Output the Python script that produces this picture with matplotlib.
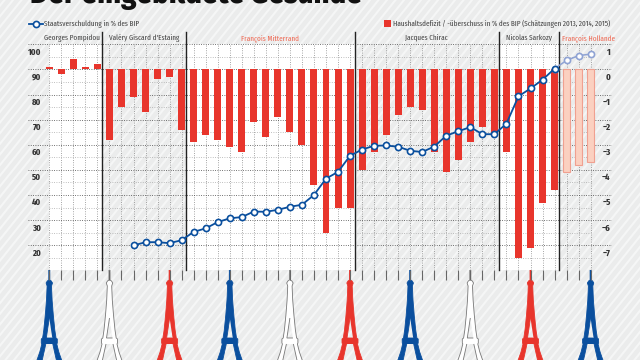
import numpy as np
import matplotlib
matplotlib.use('Agg')
import matplotlib.pyplot as plt
from matplotlib import font_manager
from matplotlib.path import Path
from matplotlib.patches import PathPatch, Rectangle
from matplotlib.transforms import ScaledTranslation

# Haushaltsdefizit, one value per year
deficit = [0.1, -0.2, 0.4, 0.1, 0.2,
           -2.8, -1.5, -1.1, -1.7, -0.4, -0.3, -2.4,
           -2.9, -2.6, -2.8, -3.1, -3.3, -2.1, -2.7, -1.9, -2.5, -3.0, -4.6, -6.5, -5.5, -5.5,
           -4.0, -3.3, -2.6, -1.8, -1.5, -1.6, -3.3, -4.1, -3.6, -2.9, -2.3, -2.6,
           -3.3, -7.5, -7.1, -5.3, -4.8,
           -4.1, -3.8, -3.7]
# Staatsverschuldung, starts with the eighth bar
debt = [19.9, 21.2, 21.2, 20.8, 22.0, 25.3, 26.7, 29.2, 30.7, 31.2, 33.4, 33.3, 34.1, 35.3, 36.1, 40.0,
        46.5, 49.2, 55.6, 58.1, 59.6, 59.7, 59.2, 57.6, 57.1, 59.3, 63.6, 65.4, 67.0, 64.2, 64.2,
        68.4, 79.3, 82.4, 85.9, 90.3, 93.6, 95.5, 96.1]
debt_start = 7
n_estimated = 3

presidents = ['Georges Pompidou', "Valéry Giscard d'Estaing", 'François Mitterrand',
              'Jacques Chirac', 'Nicolas Sarkozy', 'François Hollande']
president_x = [72, 144, 270, 426.7, 529, 588]
president_col = ['#444444', '#444444', '#ee6a55', '#444444', '#444444', '#ee6a55']
breaks = [4.4, 11.4, 25.4, 37.4, 42.4]
debt_ticks = [100, 90, 80, 70, 60, 50, 40, 30, 20]
deficit_ticks = [1, 0, -1, -2, -3, -4, -5, -6, -7]

tower_x = [49.3, 109.5, 169.6, 229.8, 289.9, 350, 410.2, 470.3, 530.5, 590.6]
tower_col = ['#0a4f9e', 'white', '#e8352c'] * 3 + ['#0a4f9e']

RED = '#e8352c'
BLUE = '#0a4f9e'
PALE_BLUE = '#8fa3d4'

# condensed face if there is one, else a smaller plain one
names = {f.name for f in font_manager.fontManager.ttflist}
if 'Fira Sans Extra Condensed' in names:
    NARROW, fs = 'Fira Sans Extra Condensed', 0.8
elif 'Asap Condensed' in names:
    NARROW, fs = 'Asap Condensed', 0.8
else:
    NARROW, fs = 'Liberation Sans', 0.65

W, H = 640, 360
L, R, T, B = 28, 612, 44.3, 270.3

fig = plt.figure(figsize=(6.4, 3.6), dpi=100, facecolor='#ebecec')

# background layer in pixels
bg = fig.add_axes([0, 0, 1, 1])
bg.set_xlim(0, W)
bg.set_ylim(H, 0)
bg.axis('off')
for s in np.arange(-H, W + H, 8.5):
    bg.plot([s, s + H * 0.8], [H, 0], color='#f5f6f6', lw=1.5, zorder=1)

# eiffel towers
outer = [(0.5, 270), (0.5, 280), (2, 281), (3.2, 283), (2.2, 286), (2.8, 300), (4, 315), (5.5, 330),
         (6.7, 338), (8, 339), (8, 343), (7.5, 344), (9.5, 352), (13, 362)]
hole1 = [(0.3, 318), (3, 338)]
hole2 = [(3.5, 344), (7.5, 362)]
for cx, col in zip(tower_x, tower_col):
    verts = [(cx + a, y) for a, y in outer] + [(cx - a, y) for a, y in outer[::-1]]
    codes = [Path.MOVETO] + [Path.LINETO] * (len(verts) - 1)
    for h in (hole1, hole2):
        ring = [(cx, h[0][1]), (cx - h[1][0], h[1][1]), (cx + h[1][0], h[1][1])]
        if h is hole2:
            ring = [(cx - h[0][0], h[0][1]), (cx - h[1][0], h[1][1]),
                    (cx + h[1][0], h[1][1]), (cx + h[0][0], h[0][1])]
        verts += ring
        codes += [Path.MOVETO] + [Path.LINETO] * (len(ring) - 1)
    edge = '#777777' if col == 'white' else col
    bg.add_patch(PathPatch(Path(verts, codes), facecolor=col, edgecolor=edge, lw=0.6, zorder=3))

# title, cut by the top edge
bg.text(30, 3.5, 'Der eingebildete Gesunde', fontsize=30 * fs, fontweight='bold', family=NARROW,
        color='#111111', va='baseline', ha='left')

# legends
bg.plot([29, 43], [23.5, 23.5], color=BLUE, lw=1.3, zorder=4)
bg.plot([36], [23.5], 'o', ms=4.4, mfc='white', mec=BLUE, mew=1.2, zorder=5)
bg.text(44, 23.8, 'Staatsverschuldung in % des BIP', fontsize=7 * fs, family=NARROW, color='#444444', va='center')
bg.add_patch(Rectangle((384, 20), 7, 7, facecolor=RED, edgecolor='none', zorder=4))
bg.text(393, 23.8, 'Haushaltsdefizit / -überschuss in % des BIP (Schätzungen 2013, 2014, 2015)',
        fontsize=7 * fs, family=NARROW, color='#444444', va='center')
for name, x, col in zip(presidents, president_x, president_col):
    bg.text(x, 37.7, name, fontsize=7 * fs, family=NARROW, color=col, ha='center', va='center')

# chart axes, value scale on the right, debt scale on the left
ax = fig.add_axes([L / W, 1 - B / H, (R - L) / W, (B - T) / H])
ax.patch.set_alpha(0)
idx = np.arange(len(deficit))
px = 12.03
ax.set_xlim((L - 49.3) / px, (R - 49.3) / px)
ax.set_ylim(-8, 1)

# white panels for every other president
edges = [-0.0, 4.4, 11.4, 25.4, 37.4, 42.4]
for a, b in [(edges[0], edges[1]), (edges[2], edges[3]), (edges[4], edges[5])]:
    ax.axvspan(a, b, color='white', lw=0, zorder=0)

ax.set_axisbelow(True)
ax.set_xticks(idx)
ax.set_xticklabels([])
ax.set_yticks(deficit_ticks + [-8])
ax.set_yticklabels([str(v).replace('-', '\u2212') for v in deficit_ticks] + [''])
ax.grid(axis='x', color='#888888', lw=0.6, ls=(0, (1, 1.8)), zorder=1)
ax.grid(axis='y', color='#444444', lw=0.6, ls=(0, (1, 1.8)), zorder=2)
ax.hlines(np.arange(-7.5, 1, 1), 0, idx[-1], color='#aaaaaa', lw=0.6, ls=(0, (1, 1.8)), zorder=1)
ax.tick_params(axis='x', length=7.2, width=0.8, color='#666666')
for s in ax.spines.values():
    s.set_visible(False)

n_real = len(deficit) - n_estimated
ax.bar(idx[:n_real], deficit[:n_real], width=0.58, color=RED, zorder=3)
ax.bar(idx[n_real:], deficit[n_real:], width=0.58, facecolor='#fbd0c0', edgecolor='#f0a090', lw=0.8, zorder=3)

for b in breaks:
    ax.plot([b, b], [-8, 1.5], color='#222222', lw=1, clip_on=False, zorder=4)

ax2 = ax.twinx()
ax2.patch.set_alpha(0)
ax2.set_ylim(10, 100)
ax2.set_yticks(debt_ticks)
for s in ax2.spines.values():
    s.set_visible(False)
# twinx flips the sides, so set them after it
ax.yaxis.tick_right()
ax2.yaxis.tick_left()
ax.tick_params(axis='y', length=0, pad=-1)
ax2.tick_params(axis='y', length=0, pad=-9.5)

debt_x = idx[debt_start:]
n_line = len(debt) - n_estimated
ax2.plot(debt_x[n_line - 1:], debt[n_line - 1:], color=PALE_BLUE, lw=1.1, marker='o', ms=4.4,
         mfc='white', mec=PALE_BLUE, mew=1.2, zorder=5)
ax2.plot(debt_x[:n_line], debt[:n_line], color=BLUE, lw=1.3, marker='o', ms=4.4,
         mfc='white', mec=BLUE, mew=1.2, zorder=6)

# tick labels sit under their grid lines
shift = ScaledTranslation(0, -7 / 100, fig.dpi_scale_trans)
for lab in ax.get_yticklabels() + ax2.get_yticklabels():
    lab.set_transform(lab.get_transform() + shift)
    lab.set_fontsize(8.5 * fs)
    lab.set_fontweight('bold')
    lab.set_family(NARROW)
    lab.set_color('#333333')
for lab in ax.get_yticklabels():
    lab.set_ha('right')
    lab.set_x(1.0)

fig.savefig('out.png', dpi=100, facecolor=fig.get_facecolor())
